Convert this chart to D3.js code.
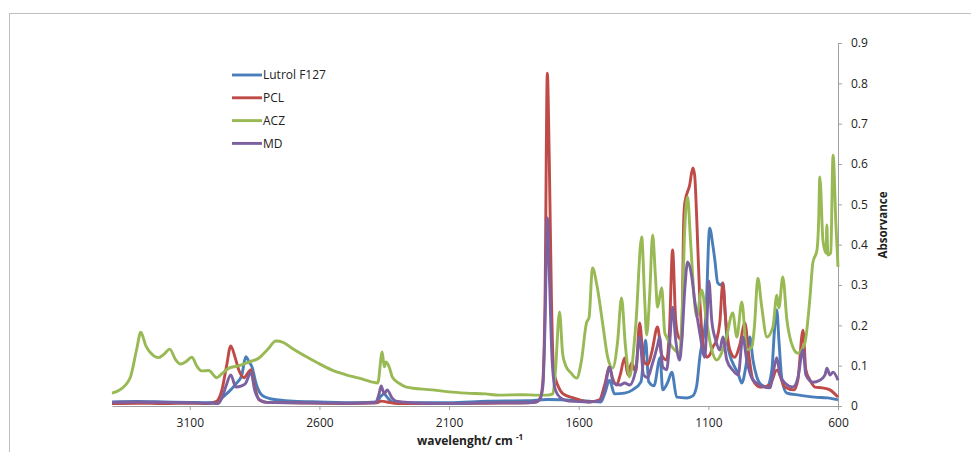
<!DOCTYPE html>
<html>
<head>
<meta charset="UTF-8" />
<title>FTIR spectra</title>
<script src="https://d3js.org/d3.v7.min.js"></script>
<style>
  body { margin: 0; background: #fff; }
  text { font-family: "Open Sans", "Liberation Sans", sans-serif; fill: #222; }
</style>
</head>
<body>
<div id="chart"></div>
<script>
// wavenumber (cm-1), absorbance
const lutrolPts = [
  [3400,0.010],[3300,0.011],[3200,0.010],[3100,0.009],[3030,0.008],[2990,0.012],[2976,0.02],
  [2950,0.035],[2922,0.055],[2900,0.075],[2884,0.122],[2872,0.11],[2860,0.097],[2845,0.057],
  [2822,0.027],[2790,0.018],[2756,0.015],[2700,0.012],[2600,0.01],[2450,0.008],[2380,0.01],
  [2362,0.025],[2350,0.03],[2339,0.022],[2319,0.01],[2250,0.008],[2100,0.008],[1950,0.012],
  [1800,0.013],[1720,0.016],[1650,0.015],[1560,0.012],[1515,0.01],[1500,0.03],[1481,0.064],
  [1462,0.03],[1423,0.032],[1392,0.04],[1360,0.06],[1342,0.163],[1330,0.06],[1310,0.05],
  [1286,0.12],[1276,0.04],[1256,0.06],[1241,0.084],[1222,0.022],[1183,0.02],[1160,0.025],
  [1145,0.05],[1133,0.121],[1110,0.22],[1095,0.441],[1083,0.40],[1075,0.362],[1064,0.305],
  [1052,0.30],[1044,0.305],[1036,0.238],[1029,0.171],[1017,0.126],[1006,0.107],[985,0.08],
  [971,0.057],[955,0.10],[940,0.171],[928,0.114],[913,0.072],[895,0.052],[874,0.047],
  [855,0.09],[845,0.188],[836,0.238],[828,0.164],[816,0.064],[797,0.032],[750,0.027],
  [690,0.022],[640,0.02],[600,0.015]
];
const pclPts = [
  [3400,0.006],[3300,0.007],[3200,0.006],[3100,0.007],[3030,0.006],[3000,0.01],[2976,0.04],
  [2958,0.10],[2942,0.149],[2925,0.12],[2911,0.089],[2891,0.07],[2878,0.08],[2864,0.09],
  [2850,0.05],[2833,0.015],[2800,0.009],[2700,0.008],[2500,0.006],[2380,0.008],[2360,0.012],
  [2340,0.01],[2300,0.006],[2100,0.006],[1950,0.007],[1800,0.008],[1765,0.01],[1748,0.02],
  [1738,0.065],[1730,0.26],[1721,0.825],[1714,0.63],[1705,0.26],[1697,0.09],[1680,0.05],
  [1660,0.03],[1620,0.02],[1560,0.01],[1520,0.015],[1500,0.052],[1481,0.097],[1470,0.07],
  [1454,0.052],[1440,0.077],[1423,0.119],[1410,0.077],[1396,0.107],[1380,0.085],[1365,0.206],
  [1350,0.114],[1334,0.102],[1318,0.134],[1296,0.196],[1280,0.126],[1261,0.114],[1250,0.188],
  [1238,0.387],[1226,0.213],[1215,0.171],[1203,0.164],[1195,0.46],[1191,0.503],[1172,0.548],
  [1160,0.59],[1153,0.573],[1145,0.468],[1133,0.263],[1122,0.164],[1106,0.121],[1095,0.126],
  [1083,0.146],[1068,0.164],[1056,0.206],[1044,0.305],[1033,0.213],[1017,0.139],[998,0.121],
  [979,0.151],[959,0.206],[944,0.126],[928,0.064],[901,0.047],[863,0.052],[836,0.089],
  [805,0.047],[770,0.04],[755,0.064],[735,0.188],[724,0.09],[708,0.064],[689,0.047],
  [660,0.045],[631,0.04],[600,0.022]
];
const aczPts = [
  [3400,0.032],[3370,0.04],[3330,0.07],[3305,0.14],[3289,0.183],[3270,0.15],[3240,0.125],
  [3220,0.12],[3200,0.128],[3177,0.141],[3155,0.115],[3135,0.104],[3115,0.11],[3092,0.121],
  [3072,0.098],[3054,0.087],[3027,0.088],[2996,0.07],[2976,0.08],[2949,0.094],[2910,0.1],
  [2872,0.109],[2833,0.119],[2800,0.14],[2768,0.161],[2740,0.158],[2710,0.145],[2687,0.136],
  [2650,0.122],[2613,0.109],[2551,0.089],[2500,0.078],[2447,0.069],[2400,0.06],[2375,0.057],
  [2358,0.134],[2350,0.097],[2343,0.109],[2330,0.095],[2319,0.072],[2290,0.055],[2265,0.047],
  [2165,0.04],[2100,0.035],[2034,0.032],[1960,0.03],[1906,0.027],[1820,0.028],[1760,0.027],
  [1720,0.027],[1700,0.03],[1690,0.085],[1674,0.233],[1662,0.13],[1650,0.1],[1630,0.082],
  [1608,0.069],[1590,0.11],[1570,0.206],[1560,0.22],[1547,0.342],[1530,0.30],[1508,0.206],
  [1488,0.12],[1469,0.094],[1450,0.16],[1435,0.268],[1420,0.15],[1404,0.072],[1380,0.2],
  [1357,0.419],[1346,0.27],[1338,0.176],[1326,0.28],[1315,0.424],[1304,0.32],[1296,0.245],
  [1280,0.293],[1268,0.181],[1261,0.171],[1230,0.139],[1211,0.131],[1200,0.25],[1191,0.44],
  [1180,0.518],[1168,0.40],[1145,0.221],[1126,0.288],[1106,0.206],[1087,0.139],[1068,0.114],
  [1050,0.13],[1030,0.171],[1006,0.231],[990,0.171],[971,0.258],[952,0.139],[932,0.146],
  [922,0.2],[909,0.317],[895,0.25],[874,0.171],[851,0.196],[836,0.275],[828,0.243],
  [813,0.32],[797,0.213],[774,0.146],[755,0.131],[728,0.156],[708,0.27],[697,0.355],
  [681,0.387],[675,0.45],[670,0.568],[658,0.41],[646,0.379],[643,0.449],[639,0.374],
  [628,0.38],[619,0.622],[608,0.45],[600,0.345]
];
const mdPts = [
  [3400,0.009],[3300,0.01],[3200,0.009],[3100,0.008],[3030,0.007],[2990,0.006],[2976,0.02],
  [2960,0.05],[2942,0.077],[2922,0.047],[2900,0.05],[2884,0.057],[2864,0.084],[2850,0.04],
  [2830,0.015],[2806,0.009],[2700,0.008],[2500,0.007],[2385,0.008],[2370,0.03],[2362,0.05],
  [2350,0.03],[2339,0.04],[2320,0.02],[2304,0.012],[2200,0.007],[2100,0.006],[1950,0.008],
  [1800,0.008],[1765,0.01],[1748,0.02],[1738,0.05],[1730,0.2],[1721,0.466],[1712,0.3],
  [1703,0.12],[1690,0.04],[1670,0.02],[1640,0.012],[1560,0.01],[1520,0.012],[1500,0.04],
  [1481,0.097],[1466,0.057],[1440,0.052],[1423,0.057],[1404,0.052],[1380,0.09],[1365,0.171],
  [1350,0.077],[1334,0.07],[1318,0.1],[1296,0.15],[1288,0.171],[1276,0.097],[1261,0.09],
  [1250,0.15],[1238,0.245],[1226,0.164],[1211,0.114],[1203,0.156],[1191,0.288],[1180,0.357],
  [1165,0.325],[1153,0.263],[1133,0.181],[1114,0.121],[1106,0.2],[1098,0.31],[1087,0.213],
  [1072,0.164],[1056,0.139],[1044,0.171],[1029,0.114],[1006,0.089],[985,0.077],[967,0.171],
  [952,0.114],[932,0.069],[901,0.052],[863,0.045],[848,0.09],[836,0.12],[824,0.077],
  [805,0.057],[774,0.047],[755,0.069],[735,0.139],[724,0.077],[697,0.059],[670,0.064],
  [650,0.077],[643,0.094],[631,0.077],[619,0.084],[600,0.064]
];

const seriesNames = ["Lutrol F127", "PCL", "ACZ", "MD"];
const seriesColors = ["#4a7ebb", "#be4b48", "#98b954", "#7d60a0"];
const seriesData = [lutrolPts, pclPts, aczPts, mdPts];
const xTicks = [3100, 2600, 2100, 1600, 1100, 600];
const yTicks = [0, 0.1, 0.2, 0.3, 0.4, 0.5, 0.6, 0.7, 0.8, 0.9];

const width = 971, height = 452;
const plot = { left: 112, right: 838, top: 43, bottom: 406 };

const svg = d3.select("#chart").append("svg")
  .attr("width", width)
  .attr("height", height);

// outer frame (only top and left edges are visible)
svg.append("rect")
  .attr("x", 9.5).attr("y", 13.5)
  .attr("width", 1000).attr("height", 500)
  .attr("fill", "none")
  .attr("stroke", "#c0c0c0");

const x = d3.scaleLinear().domain([3400, 600]).range([plot.left, plot.right]);
const y = d3.scaleLinear().domain([0, 0.9]).range([plot.bottom, plot.top]);

// x axis
const xAxis = svg.append("g")
  .attr("transform", `translate(0,${plot.bottom})`)
  .call(d3.axisBottom(x).tickValues(xTicks).tickSize(4).tickSizeOuter(0).tickFormat(d3.format("d")));
xAxis.select(".domain").attr("stroke", "#a0a0a0");
xAxis.selectAll(".tick line").attr("stroke", "#a0a0a0");
xAxis.selectAll(".tick text")
  .attr("dy", "1.15em")
  .style("font-size", "12px")
  .style("font-family", "Open Sans, sans-serif")
  .attr("fill", "#222");

// y axis on the right
const yAxis = svg.append("g")
  .attr("transform", `translate(${plot.right},0)`)
  .call(d3.axisRight(y).tickValues(yTicks).tickSize(4).tickSizeOuter(0).tickFormat(d => d === 0 ? "0" : d3.format(".1f")(d)));
yAxis.select(".domain").attr("stroke", "#a0a0a0");
yAxis.selectAll(".tick line").attr("stroke", "#a0a0a0");
yAxis.selectAll(".tick text")
  .attr("x", 13)
  .style("font-size", "12px")
  .style("font-family", "Open Sans, sans-serif")
  .attr("fill", "#222");

// axis titles
const xTitle = svg.append("text")
  .attr("x", 470).attr("y", 445)
  .attr("text-anchor", "middle")
  .style("font-size", "12px")
  .style("font-weight", "bold");
xTitle.append("tspan").text("wavelenght/ cm ");
xTitle.append("tspan").attr("dy", -5).style("font-size", "8px").text("-1");

svg.append("text")
  .attr("transform", "translate(887,225) rotate(-90)")
  .attr("text-anchor", "middle")
  .style("font-size", "11.5px")
  .style("font-weight", "bold")
  .text("Absorvance");

// spectra
const line = d3.line()
  .x(d => x(d[0]))
  .y(d => y(d[1]))
  .curve(d3.curveMonotoneX);

svg.append("g").selectAll("path")
  .data(seriesData)
  .join("path")
  .attr("d", line)
  .attr("fill", "none")
  .attr("stroke", (d, i) => seriesColors[i])
  .attr("stroke-width", 2.9)
  .attr("stroke-linejoin", "round");

// legend
const legend = svg.append("g").attr("transform", "translate(232,75)");
seriesNames.forEach((name, i) => {
  const row = legend.append("g").attr("transform", `translate(0,${i * 22.8})`);
  row.append("line")
    .attr("x1", 0).attr("x2", 30)
    .attr("stroke", seriesColors[i])
    .attr("stroke-width", 2.9);
  row.append("text")
    .attr("x", 31).attr("dy", "0.35em")
    .style("font-size", "12px")
    .text(name);
});
</script>
</body>
</html>
